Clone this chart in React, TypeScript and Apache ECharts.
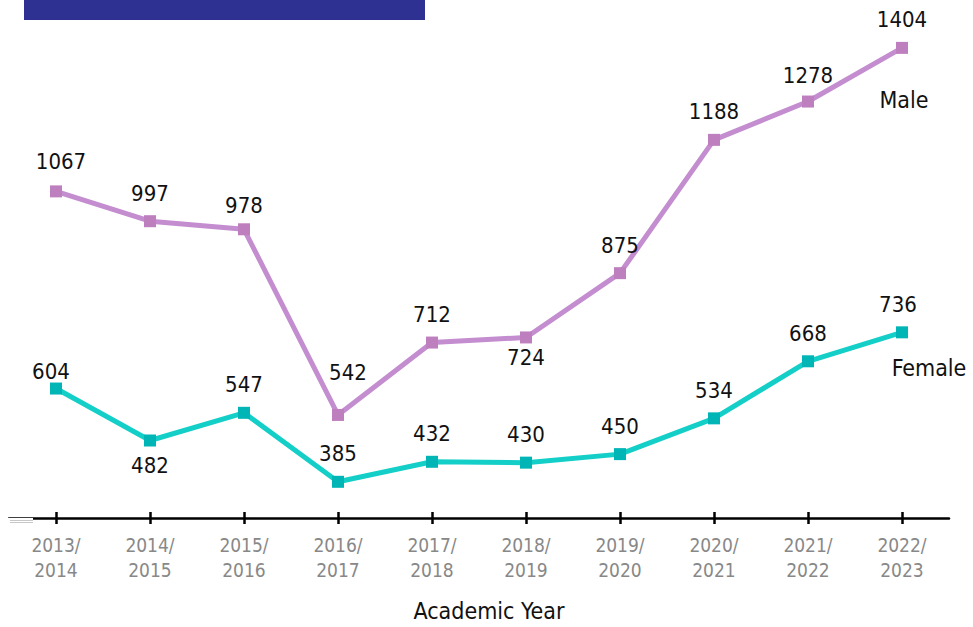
import React, { useEffect, useRef } from "react";
import * as echarts from "echarts";

const categories = [
  "2013/\n2014", "2014/\n2015", "2015/\n2016", "2016/\n2017", "2017/\n2018",
  "2018/\n2019", "2019/\n2020", "2020/\n2021", "2021/\n2022", "2022/\n2023",
];
const maleValues = [1067, 997, 978, 542, 712, 724, 875, 1188, 1278, 1404];
const femaleValues = [604, 482, 547, 385, 432, 430, 450, 534, 668, 736];
// indices whose value label sits below the point
const maleBelow = [5];
const femaleBelow = [1];
// per-point label nudges (style only): index -> [dx, dy]
const maleLabelNudge: Record<number, number[]> = { 0: [5, -2], 2: [0, 4], 3: [10, -14], 5: [0, -4], 8: [0, 2] };
const femaleLabelNudge: Record<number, number[]> = { 0: [-5, 11], 1: [0, 1], 9: [-4, 0] };

const FONT = "'DejaVu Sans Condensed', 'Liberation Sans Narrow', sans-serif";

function buildData(values: number[], below: number[], nudge: Record<number, number[]>, markerColor: string) {
  return values.map((v, i) => ({
    value: v,
    itemStyle: { color: markerColor },
    label: {
      position: below.includes(i) ? "bottom" : "top",
      distance: below.includes(i) ? 7 : 11,
      offset: nudge[i] || [0, 0],
    },
  }));
}

export default function App() {
  const ref = useRef<HTMLDivElement>(null);
  useEffect(() => {
    if (!ref.current) return;
    const chart = echarts.init(ref.current, null, { renderer: "svg" });
    const labelStyle = { show: true, color: "#111", fontSize: 22, fontFamily: FONT };
    chart.setOption({
      animation: false,
      grid: { left: 9, right: 24, top: 7, bottom: 106 },
      xAxis: [
        {
          type: "category",
          data: categories,
          boundaryGap: true,
          axisLine: { show: true, lineStyle: { color: "#000", width: 2.5 } },
          axisTick: { show: true, alignWithLabel: true, length: 6, lineStyle: { color: "#000", width: 2.5 } },
          axisLabel: { color: "#888", fontSize: 19, fontFamily: FONT, lineHeight: 25, margin: 14 },
          name: "Academic Year",
          nameLocation: "middle",
          nameGap: 81,
          nameTextStyle: { color: "#111", fontSize: 23, fontFamily: FONT, padding: [0, 0, 0, 20] },
        },
        {
          type: "category",
          data: categories,
          position: "bottom",
          boundaryGap: true,
          axisLine: { show: false },
          axisTick: { show: true, inside: true, alignWithLabel: true, length: 6, lineStyle: { color: "#000", width: 2.5 } },
          axisLabel: { show: false },
        },
      ],
      yAxis: { type: "value", min: 300, max: 1500, show: false },
      graphic: [
        { type: "rect", shape: { x: 24, y: 0, width: 401, height: 20 }, style: { fill: "#2E3192" } },
        { type: "rect", shape: { x: 0, y: 518, width: 33, height: 7 }, style: { fill: "#fff" }, z: 100 },
        { type: "line", shape: { x1: 10, y1: 520.5, x2: 33, y2: 520.5 }, style: { stroke: "#c8c8c8", lineWidth: 1 }, z: 101 },
        { type: "line", shape: { x1: 10, y1: 522.5, x2: 33, y2: 522.5 }, style: { stroke: "#c8c8c8", lineWidth: 1 }, z: 101 },
      ],
      series: [
        {
          name: "Male",
          type: "line",
          data: buildData(maleValues, maleBelow, maleLabelNudge, "#BE7FBE"),
          symbol: "rect",
          symbolSize: 12,
          lineStyle: { color: "#C38DCF", width: 5 },
          label: labelStyle,
          z: 3,
          markPoint: {
            symbol: "rect",
            symbolSize: 0,
            data: [{ coord: [categories.length - 1, maleValues[maleValues.length - 1]] }],
            label: { show: true, position: "inside", formatter: "Male", offset: [2, 52], color: "#111", fontSize: 23, fontFamily: FONT },
          },
        },
        {
          name: "Female",
          type: "line",
          data: buildData(femaleValues, femaleBelow, femaleLabelNudge, "#00B5B5"),
          symbol: "rect",
          symbolSize: 12,
          lineStyle: { color: "#13CFC8", width: 5 },
          label: labelStyle,
          z: 3,
          markPoint: {
            symbol: "rect",
            symbolSize: 0,
            data: [{ coord: [categories.length - 1, femaleValues[femaleValues.length - 1]] }],
            label: { show: true, position: "inside", formatter: "Female", offset: [27, 36], color: "#111", fontSize: 23, fontFamily: FONT },
          },
        },
      ],
    });
    return () => chart.dispose();
  }, []);
  return <div ref={ref} style={{ width: 973, height: 627, position: "absolute", left: 0, top: 0 }} />;
}
